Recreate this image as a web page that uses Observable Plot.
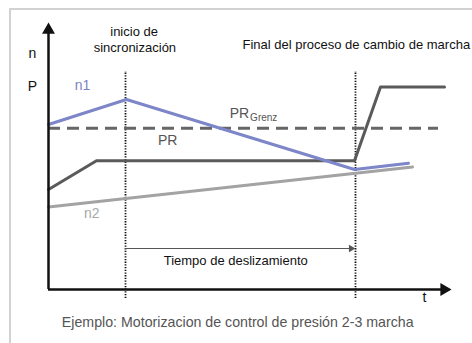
<!DOCTYPE html>
<html>
<head>
<meta charset="utf-8">
<script src="https://cdn.jsdelivr.net/npm/d3@7"></script>
<script src="https://cdn.jsdelivr.net/npm/@observablehq/plot@0.6"></script>
<style>
  html, body { margin: 0; padding: 0; background: #fff; overflow: hidden; }
  #wrap { position: relative; width: 472px; height: 343px; }
  #frame { position: absolute; left: 9px; top: 8px; width: 520px; height: 400px;
           border-left: 2px solid #d2d2d2; border-top: 2px solid #d2d2d2; }
  #chart { position: absolute; left: 0; top: 0; }
  svg { font-family: "Liberation Sans", Arial, sans-serif; }
</style>
</head>
<body>
<div id="wrap"><div id="frame"></div><div id="chart"></div></div>
<script>
// --- data (time units 0..100, value units 0..100) ---
const n1 = [[0, 66], [19.5, 76], [76.5, 48], [90, 50.5]];
const pr = [[0, 40], [12, 51.5], [76.5, 51.5], [83, 81], [99, 81]];
const n2 = [[0, 33], [91, 49]];
const prGrenz = 64.5;           // dashed limit level
const prGrenzEnd = 97.5;
const tSyncStart = 19.25;       // inicio de sincronización
const tShiftEnd = 76.75;        // final del proceso de cambio de marcha
const slipLevel = 16.4;         // Tiempo de deslizamiento arrow level
const xMax = 100, yMax = 106;

const labels = [
  {x: -4, y: 94.5, text: "n", fill: "#111", size: 14, anchor: "middle"},
  {x: -4, y: 81, text: "P", fill: "#111", size: 14, anchor: "middle"},
  {x: 8.5, y: 81.6, text: "n1", fill: "#7b84c6", size: 14, anchor: "middle"},
  {x: 29.8, y: 59.6, text: "PR", fill: "#555", size: 14, anchor: "middle"},
  {x: 10.8, y: 30.4, text: "n2", fill: "#a8a8a8", size: 14, anchor: "middle"},
  {x: 21.4, y: 103.2, text: "inicio de", fill: "#111", size: 13, anchor: "middle"},
  {x: 21.6, y: 96.8, text: "sincronización", fill: "#111", size: 13, anchor: "middle"},
  {x: 48.5, y: 98, text: "Final del proceso de cambio de marcha", fill: "#111", size: 13, anchor: "start"},
  {x: 46.8, y: 11.6, text: "Tiempo de deslizamiento", fill: "#111", size: 13, anchor: "middle"},
  {x: 94, y: -3.4, text: "t", fill: "#111", size: 14, anchor: "middle"},
  {x: 47.3, y: -13.2, text: "Ejemplo: Motorizacion de control de presión 2-3 marcha", fill: "#555", size: 14.2, anchor: "middle"}
];

const toPts = a => a.map(([x, y]) => ({x, y}));

const textMarks = labels.map(l => Plot.text([l], {
  x: "x", y: "y", text: "text", fill: l.fill, fontSize: l.size, textAnchor: l.anchor
}));

const chart = Plot.plot({
  width: 472, height: 343,
  marginTop: 0, marginRight: 0, marginBottom: 0, marginLeft: 0,
  x: {domain: [0, 100], range: [48, 448], axis: null},
  y: {domain: [0, 100], range: [289, 39], axis: null},
  marks: [
    // dotted event lines
    Plot.ruleX([tSyncStart, tShiftEnd], {y1: -3.6, y2: 87.2, stroke: "#111", strokeWidth: 1.8, strokeDasharray: "1.3,1.4"}),
    // PR limit dashed
    Plot.ruleY([prGrenz], {x1: 0, x2: prGrenzEnd, stroke: "#666", strokeWidth: 3, strokeDasharray: "12,7"}),
    // n2
    Plot.line(toPts(n2), {x: "x", y: "y", stroke: "#a3a3a3", strokeWidth: 3}),
    // PR
    Plot.line(toPts(pr), {x: "x", y: "y", stroke: "#5a5a5a", strokeWidth: 3}),
    // n1
    Plot.line(toPts(n1), {x: "x", y: "y", stroke: "#7c86c8", strokeWidth: 3}),
    // slip time arrow
    Plot.ruleY([slipLevel], {x1: tSyncStart, x2: tShiftEnd - 1.5, stroke: "#555", strokeWidth: 1}),
    Plot.dot([{x: tShiftEnd - 1.1, y: slipLevel}], {x: "x", y: "y", symbol: "triangle", r: 2.8, fill: "#555", rotate: 90}),
    // axes
    Plot.ruleX([0], {y1: 0, y2: yMax - 2, stroke: "#111", strokeWidth: 2.5}),
    Plot.ruleY([0], {x1: 0, x2: xMax - 1.5, stroke: "#111", strokeWidth: 2.5}),
    Plot.dot([{x: 0, y: yMax - 2.2}], {x: "x", y: "y", symbol: "triangle", r: 4.8, fill: "#111"}),
    Plot.dot([{x: xMax - 1.1, y: 0}], {x: "x", y: "y", symbol: "triangle", r: 4.8, fill: "#111", rotate: 90}),
    ...textMarks,
    // PR_Grenz with subscript
    Plot.text([{x: 45.3, y: 70.4}], {x: "x", y: "y", text: () => "PR", fill: "#555", fontSize: 14, textAnchor: "start"}),
    Plot.text([{x: 50.4, y: 68.6}], {x: "x", y: "y", text: () => "Grenz", fill: "#555", fontSize: 10, textAnchor: "start"})
  ]
});
chart.style.background = "transparent";
document.getElementById("chart").appendChild(chart);
</script>
</body>
</html>
